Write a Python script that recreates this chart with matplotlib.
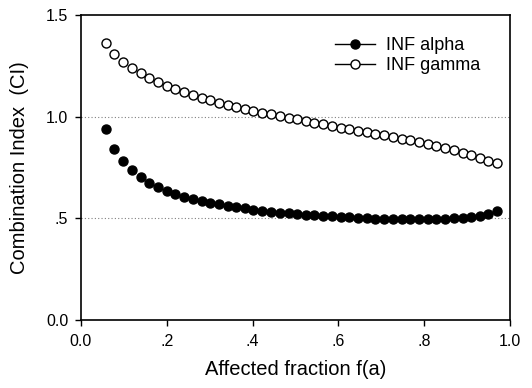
import matplotlib.pyplot as plt
from matplotlib.lines import Line2D

plt.rcParams['font.family'] = ['Liberation Sans', 'DejaVu Sans']

# Affected fraction values
fa = [0.058, 0.078, 0.099, 0.119, 0.139, 0.159, 0.180, 0.200, 0.220, 0.240,
      0.261, 0.281, 0.301, 0.321, 0.342, 0.362, 0.382, 0.402, 0.423, 0.443,
      0.463, 0.484, 0.504, 0.524, 0.544, 0.565, 0.585, 0.605, 0.625, 0.646,
      0.666, 0.686, 0.706, 0.727, 0.747, 0.767, 0.787, 0.808, 0.828, 0.848,
      0.868, 0.889, 0.909, 0.929, 0.949, 0.970]

ci_alpha = [0.940, 0.841, 0.782, 0.737, 0.703, 0.676, 0.654, 0.636, 0.621, 0.607,
            0.596, 0.586, 0.577, 0.569, 0.562, 0.555, 0.549, 0.543, 0.538, 0.533,
            0.529, 0.525, 0.521, 0.518, 0.515, 0.512, 0.510, 0.507, 0.505, 0.503,
            0.501, 0.499, 0.498, 0.497, 0.496, 0.496, 0.496, 0.496, 0.497, 0.498,
            0.500, 0.503, 0.507, 0.513, 0.522, 0.538]

ci_gamma = [1.364, 1.308, 1.271, 1.239, 1.213, 1.190, 1.169, 1.151, 1.135, 1.120,
            1.106, 1.093, 1.081, 1.069, 1.058, 1.047, 1.038, 1.029, 1.020, 1.012,
            1.004, 0.996, 0.988, 0.979, 0.971, 0.963, 0.955, 0.947, 0.939, 0.931,
            0.924, 0.917, 0.910, 0.902, 0.893, 0.884, 0.875, 0.865, 0.856, 0.846,
            0.835, 0.823, 0.811, 0.797, 0.785, 0.772]

x_ticks = [0.0, 0.2, 0.4, 0.6, 0.8, 1.0]
x_labels = ["0.0", ".2", ".4", ".6", ".8", "1.0"]
y_ticks = [0.0, 0.5, 1.0, 1.5]
y_labels = ["0.0", ".5", "1.0", "1.5"]
ref_lines = [0.5, 1.0]

fig = plt.figure(figsize=(5.32, 3.88), dpi=100)
ax = fig.add_axes([0.152, 0.175, 0.807, 0.786])

for y in ref_lines:
    ax.axhline(y, color='gray', linestyle=(0, (1, 2)), linewidth=0.8, zorder=1)

ax.plot(fa, ci_alpha, linestyle='none', marker='o', markersize=6.5,
        markerfacecolor='black', markeredgecolor='black', zorder=3)
ax.plot(fa, ci_gamma, linestyle='none', marker='o', markersize=6.5,
        markerfacecolor='white', markeredgecolor='black', markeredgewidth=1.0, zorder=3)

ax.set_xlim(0, 1.0)
ax.set_ylim(0, 1.5)
ax.set_xticks(x_ticks)
ax.set_xticklabels(x_labels)
ax.set_yticks(y_ticks)
ax.set_yticklabels(y_labels)
ax.tick_params(direction='out', length=4, width=1, labelsize=11.5)
ax.tick_params(axis='x', pad=6)
ax.tick_params(axis='y', pad=5)
for s in ax.spines.values():
    s.set_linewidth(1.2)

ax.set_xlabel("Affected fraction f(a)", fontsize=14.5, labelpad=8)
ax.set_ylabel("Combination Index  (CI)", fontsize=14.5, labelpad=12)

handles = [
    Line2D([], [], color='black', linewidth=1, marker='o', markersize=6.5,
           markerfacecolor='black', markeredgecolor='black'),
    Line2D([], [], color='black', linewidth=1, marker='o', markersize=6.5,
           markerfacecolor='white', markeredgecolor='black'),
]
ax.legend(handles, ["INF alpha", "INF gamma"], loc='upper left',
          bbox_to_anchor=(0.592, 0.927), frameon=False, fontsize=13,
          borderpad=0, borderaxespad=0,
          handlelength=2.2, handletextpad=0.6, labelspacing=0.15)

fig.savefig("out.png", dpi=100)
